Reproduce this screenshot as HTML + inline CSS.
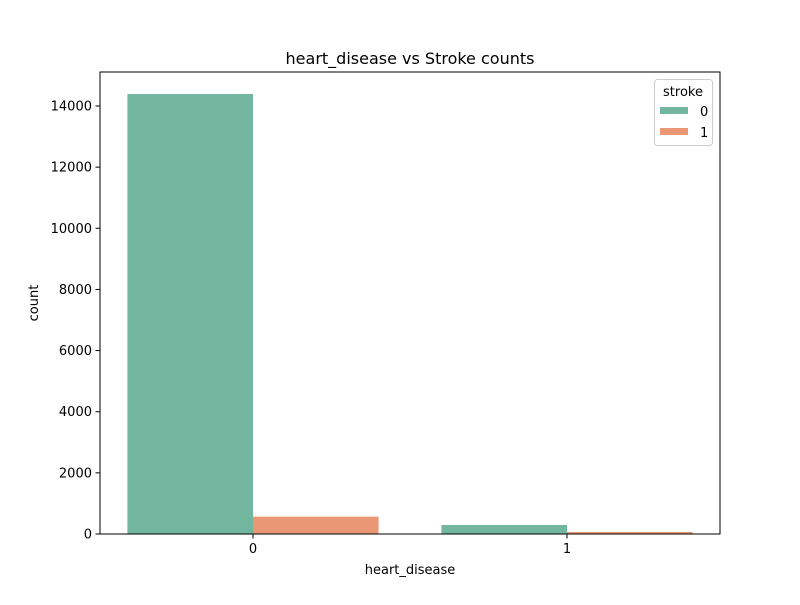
<!DOCTYPE html>
<html><head><meta charset="utf-8"><style>body{margin:0;background:#fff}text{font-family:"DejaVu Sans","Liberation Sans",sans-serif}</style></head>
<body>
<svg id="c" width="800" height="600" xmlns="http://www.w3.org/2000/svg">
<text x="410" y="64" font-size="16" text-anchor="middle">heart_disease vs Stroke counts</text>
<g id="bars"></g>
<g id="yt"></g>
<g id="xt"></g>
<rect x="100" y="72" width="620" height="462" fill="none" stroke="#000" stroke-width="1"/>
<text x="410" y="574" font-size="13" text-anchor="middle">heart_disease</text>
<text x="38" y="303" font-size="13" text-anchor="middle" transform="rotate(-90 38 303)">count</text>
<g>
<rect x="654.5" y="79.5" width="58" height="66" rx="3" fill="#fff" stroke="#ccc"/>
<text x="683" y="96" font-size="13" text-anchor="middle">stroke</text>
<rect x="660" y="107" width="28" height="7" fill="#73b6a0"/>
<text x="700" y="116" font-size="13">0</text>
<rect x="660" y="128" width="28" height="7" fill="#e99775"/>
<text x="700" y="137" font-size="13">1</text>
</g>
</svg>
<script>
const categories=["0","1"];
const stroke0=[14393,294];
const stroke1=[567,65];
const yTicks=[0,2000,4000,6000,8000,10000,12000,14000];
const NS="http://www.w3.org/2000/svg";
const y=v=>534-v*(428/14000);
const xc=i=>253+314*i;
const bars=document.getElementById('bars');
function mk(t,a,p){const e=document.createElementNS(NS,t);for(const k in a)e.setAttribute(k,a[k]);p.appendChild(e);return e;}
categories.forEach((c,i)=>{
 [[stroke0,"#73b6a0",-125.6],[stroke1,"#e99775",0]].forEach(([s,col,off],j)=>{
  const r=mk('rect',{x:xc(i)+off,y:y(s[i]),width:125.6,height:534-y(s[i]),fill:col},bars);
  
  
 });
 const g=document.getElementById('xt');
 const l=mk('line',{x1:xc(i),x2:xc(i),y1:534,y2:538.5,stroke:'#000'},g);
 
 
 const t=mk('text',{x:xc(i),y:553,'font-size':13,'text-anchor':'middle'},g);t.textContent=c;
 
 
});
const yt=document.getElementById('yt');
yTicks.forEach(v=>{
 const l=mk('line',{x1:95.5,x2:100,y1:y(v),y2:y(v),stroke:'#000'},yt);
 
 
 const t=mk('text',{x:92,y:y(v)+4.5,'font-size':13,'text-anchor':'end'},yt);t.textContent=v;
 
 
});
</script>
</body></html>
